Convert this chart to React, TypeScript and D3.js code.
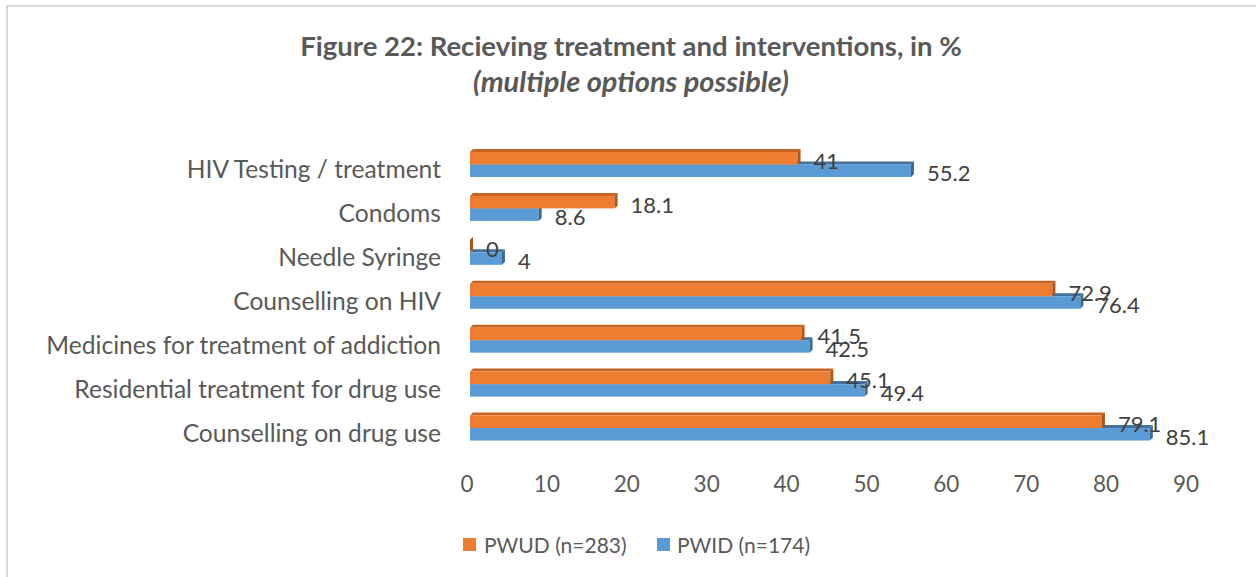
import React from "react";
import * as d3 from "d3";

const categories = [
  "HIV Testing / treatment",
  "Condoms",
  "Needle Syringe",
  "Counselling on HIV",
  "Medicines for treatment of addiction",
  "Residential treatment for drug use",
  "Counselling on drug use",
];
const pwud = [41, 18.1, 0, 72.9, 41.5, 45.1, 79.1];
const pwid = [55.2, 8.6, 4, 76.4, 42.5, 49.4, 85.1];
const xTicks = [0, 10, 20, 30, 40, 50, 60, 70, 80, 90];
const seriesNames = ["PWUD (n=283)", "PWID (n=174)"];
const titleLine1 = "Figure 22: Recieving treatment and interventions, in %";
const titleLine2 = "(multiple options possible)";

const W = 1256;
const H = 577;
const FONT = "Lato, 'Open Sans', sans-serif";
const ORANGE = { front: "#ED7D31", top: "#C8641F", side: "#AE5519" };
const BLUE = { front: "#5B9BD5", top: "#41719C", side: "#3C6A94" };

export default function App() {
  const x = d3.scaleLinear().domain([0, 90]).range([470, 1189]);
  const y = d3
    .scaleBand<string>()
    .domain(categories)
    .range([142.5, 450])
    .paddingInner(0)
    .paddingOuter(0);
  const barH = 12.5;
  const dx = 3;
  const dy = 3;

  const bar3d = (v: number, yTop: number, col: typeof ORANGE, key: string) => {
    const x0 = x(0);
    const x1 = x(v);
    const top = `${x0},${yTop} ${x0 + dx},${yTop - dy} ${x1 + dx},${yTop - dy} ${x1},${yTop}`;
    const side = `${x1},${yTop} ${x1 + dx},${yTop - dy} ${x1 + dx},${yTop + barH - dy} ${x1},${yTop + barH}`;
    return (
      <g key={key}>
        <polygon points={top} fill={col.top} />
        <rect x={x0} y={yTop} width={Math.max(0, x1 - x0)} height={barH} fill={col.front} />
        <polygon points={side} fill={col.side} />
      </g>
    );
  };

  return (
    <svg
      width={W}
      height={H}
      style={{ position: "absolute", left: 0, top: 0, background: "#fff" }}
      fontFamily={FONT}
    >
      <rect x={7} y={6} width={1300} height={700} fill="#fff" stroke="#D9D9D9" strokeWidth={2} />
      <text x={631} y={45} textAnchor="middle" dominantBaseline="central" fontSize={27.5} fontWeight="bold" fill="#595959">
        {titleLine1}
      </text>
      <text x={631} y={80} textAnchor="middle" dominantBaseline="central" fontSize={29} fontWeight="bold" fontStyle="italic" fill="#595959">
        {titleLine2}
      </text>

      {categories.map((c, i) => {
        const cy = (y(c) as number) + y.bandwidth() / 2;
        return (
          <g key={c}>
            {bar3d(pwid[i], cy, BLUE, "b")}
            {bar3d(pwud[i], cy - barH, ORANGE, "o")}
          </g>
        );
      })}

      {categories.map((c, i) => {
        const cy = (y(c) as number) + y.bandwidth() / 2;
        return (
          <g key={"l" + c} fontSize={22} fill="#404040">
            <text x={x(pwud[i]) + 16} y={cy - barH / 2 + 2} dominantBaseline="central">
              {pwud[i]}
            </text>
            <text x={x(pwid[i]) + 16} y={cy + barH / 2 + 2} dominantBaseline="central">
              {pwid[i]}
            </text>
          </g>
        );
      })}

      {categories.map((c) => {
        const cy = (y(c) as number) + y.bandwidth() / 2;
        return (
          <text key={"c" + c} x={441} y={cy + 4} textAnchor="end" dominantBaseline="central" fontSize={24.6} fill="#595959">
            {c}
          </text>
        );
      })}

      {xTicks.map((t) => (
        <text key={"t" + t} x={x(t) - 3} y={483} textAnchor="middle" dominantBaseline="central" fontSize={22.5} fill="#595959">
          {t}
        </text>
      ))}

      <g>
        <rect x={463} y={538} width={13} height={13} fill={ORANGE.front} />
        <text x={484} y={544.5} dominantBaseline="central" fontSize={21} fill="#595959">
          {seriesNames[0]}
        </text>
        <rect x={657} y={538} width={13} height={13} fill={BLUE.front} />
        <text x={677} y={544.5} dominantBaseline="central" fontSize={21} fill="#595959">
          {seriesNames[1]}
        </text>
      </g>
    </svg>
  );
}
